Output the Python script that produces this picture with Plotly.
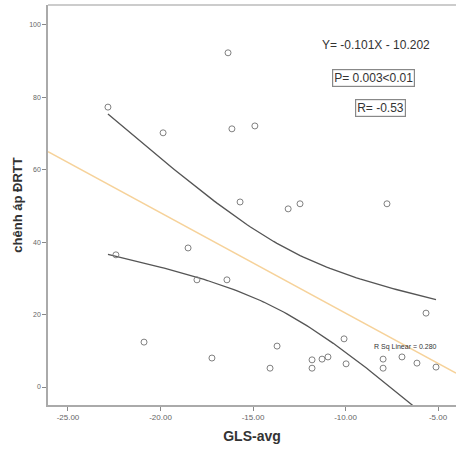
import numpy as np
import plotly.graph_objects as go

# Data
gls_avg = [-16.35, -22.84, -19.86, -16.14, -14.90, -15.70, -13.10, -12.46, -7.76,
           -18.51, -22.41, -18.03, -16.41, -20.89, -17.22, -13.70, -10.08, -5.65,
           -14.08, -11.81, -11.81, -11.27, -10.95, -9.97, -7.97, -7.97, -6.95,
           -6.14, -5.11]
chenh_ap = [92.3, 77.3, 70.2, 71.3, 72.1, 51.1, 49.2, 50.6, 50.6,
            38.4, 36.5, 29.6, 29.6, 12.4, 8.0, 11.3, 13.3, 20.4,
            5.2, 7.5, 5.2, 7.7, 8.3, 6.4, 7.7, 5.2, 8.3,
            6.6, 5.5]
x_ticks = [-25, -20, -15, -10, -5]
x_tick_labels = ["-25.00", "-20.00", "-15.00", "-10.00", "-5.00"]
y_ticks = [0, 20, 40, 60, 80, 100]
y_tick_labels = ["0", "20", "40", "60", "80", "100"]

x = np.array(gls_avg)
y = np.array(chenh_ap)
n = len(x)
b1, b0 = np.polyfit(x, y, 1)
resid = y - (b0 + b1 * x)
s = np.sqrt(np.sum(resid ** 2) / (n - 2))
xm = x.mean()
sxx = np.sum((x - xm) ** 2)
t = 2.052

xr = [-26.08, -4.03]
xfit = np.linspace(xr[0], xr[1], 50)
xb = np.linspace(x.min(), x.max(), 100)
yb = b0 + b1 * xb
se = s * np.sqrt(1 / n + (xb - xm) ** 2 / sxx)

fig = go.Figure()
fig.add_trace(go.Scatter(x=xfit, y=b0 + b1 * xfit, mode="lines",
                         line=dict(color="#f6d29a", width=1.6), hoverinfo="skip"))
fig.add_trace(go.Scatter(x=xb, y=yb + t * se, mode="lines",
                         line=dict(color="#555555", width=1.3), hoverinfo="skip"))
fig.add_trace(go.Scatter(x=xb, y=yb - t * se, mode="lines",
                         line=dict(color="#555555", width=1.3), hoverinfo="skip"))
fig.add_trace(go.Scatter(x=gls_avg, y=chenh_ap, mode="markers",
                         marker=dict(symbol="circle-open", size=6,
                                     color="#808080", line=dict(width=1))))

fig.update_layout(
    width=456, height=450,
    margin=dict(l=48, r=0, t=5, b=45),
    plot_bgcolor="white", paper_bgcolor="white",
    showlegend=False,
    font=dict(family="Arial, Liberation Sans, sans-serif", color="#333"),
    xaxis=dict(range=xr, tickvals=x_ticks, ticktext=x_tick_labels, automargin=False,
               showgrid=False, zeroline=False, showline=True, linecolor="#aaaaaa",
               linewidth=1.5, ticks="outside", ticklen=4, tickcolor="#888",
               tickfont=dict(size=8, color="#666666"),
               title=dict(text="<b>GLS-avg</b>", font=dict(size=14, color="#333"),
                          standoff=10), mirror=False),
    yaxis=dict(range=[-4.97, 105.5], tickvals=y_ticks, ticktext=y_tick_labels,
               automargin=False,
               showgrid=False, zeroline=False, showline=True, linecolor="#aaaaaa",
               linewidth=1.5, ticks="outside", ticklen=4, tickcolor="#888",
               tickfont=dict(size=7, color="#666666"),
               title=dict(text="<b>chênh áp ĐRTT</b>", font=dict(size=13, color="#333"),
                          standoff=4)),
    shapes=[dict(type="line", xref="paper", yref="paper", x0=0, x1=1, y0=1, y1=1,
                 line=dict(color="#bbbbbb", width=1.5))],
    annotations=[
        dict(text="Y= -0.101X - 10.202", xref="paper", yref="paper",
             x=0.804, y=0.9, xanchor="center", yanchor="middle",
             showarrow=False, font=dict(size=12, color="#333")),
        dict(text="P= 0.003<0.01", xref="paper", yref="paper",
             x=0.797, y=0.818, xanchor="center", yanchor="middle",
             showarrow=False, font=dict(size=12, color="#333"),
             bordercolor="#888", borderwidth=1.2, borderpad=1),
        dict(text="R= -0.53", xref="paper", yref="paper",
             x=0.816, y=0.743, xanchor="center", yanchor="middle",
             showarrow=False, font=dict(size=12, color="#333"),
             bordercolor="#888", borderwidth=1.2, borderpad=1),
        dict(text="R Sq Linear = 0.280", xref="paper", yref="paper",
             x=0.877, y=0.145, xanchor="center", yanchor="middle",
             showarrow=False, font=dict(size=7, color="#333")),
    ],
)
fig.write_html("out.html", post_script="document.body.style.margin='0';",
               config={"displayModeBar": False})
